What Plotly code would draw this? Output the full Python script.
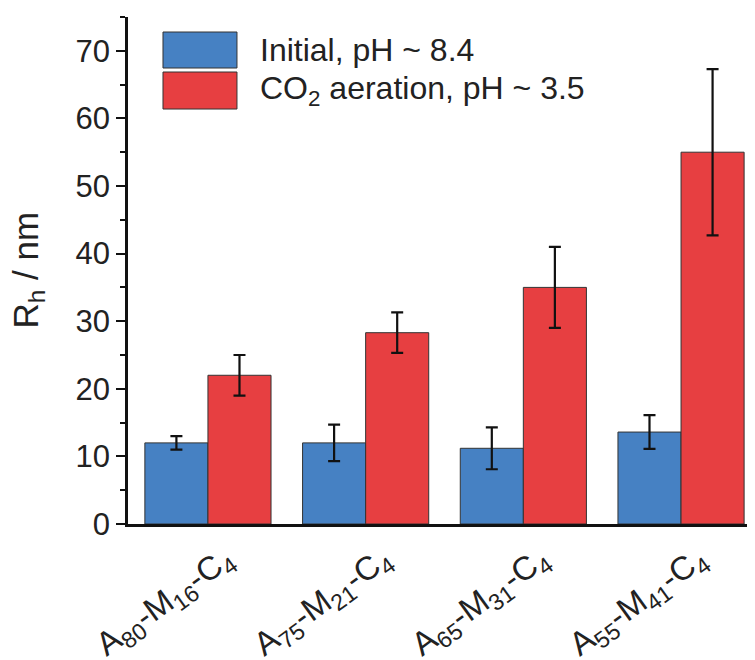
import plotly.graph_objects as go

categories = ["A<sub>80</sub>-M<sub>16</sub>-C<sub>4</sub>",
              "A<sub>75</sub>-M<sub>21</sub>-C<sub>4</sub>",
              "A<sub>65</sub>-M<sub>31</sub>-C<sub>4</sub>",
              "A<sub>55</sub>-M<sub>41</sub>-C<sub>4</sub>"]
initial_vals = [12.0, 12.0, 11.2, 13.6]
initial_err = [1.0, 2.7, 3.1, 2.5]
co2_vals = [22.0, 28.3, 35.0, 55.0]
co2_err = [3.0, 3.0, 6.0, 12.3]
legend_names = ["Initial, pH ~ 8.4", "CO<sub>2</sub> aeration, pH ~ 3.5"]
y_title = "R<sub>h</sub> / nm"

BLUE = "#4681C3"
RED = "#E73F41"
FONT = "Liberation Sans, Arial, sans-serif"

fig = go.Figure()
fig.add_trace(go.Bar(
    x=categories, y=initial_vals, name=legend_names[0],
    marker=dict(color=BLUE, line=dict(color="#333333", width=1)),
    error_y=dict(type="data", array=initial_err, color="#111111", thickness=2.2, width=6),
    showlegend=False))
fig.add_trace(go.Bar(
    x=categories, y=co2_vals, name=legend_names[1],
    marker=dict(color=RED, line=dict(color="#333333", width=1)),
    error_y=dict(type="data", array=co2_err, color="#111111", thickness=2.2, width=6),
    showlegend=False))

# legend drawn as boxes + text (paper coordinates)
boxes = [(0.9704, 0.8994, BLUE), (0.8915, 0.8185, RED)]
for (y1, y0, col), name in zip(boxes, legend_names):
    fig.add_shape(type="rect", xref="paper", yref="paper",
                  x0=0.0558, x1=0.1738, y0=y0, y1=y1,
                  fillcolor=col, line=dict(color="#333333", width=1))
    fig.add_annotation(xref="paper", yref="paper", x=0.2073, y=(y0 + y1) / 2,
                       text=name, showarrow=False, xanchor="left", yanchor="middle",
                       font=dict(size=32, color="#222222", family=FONT))

# y-axis title
fig.add_annotation(xref="paper", yref="paper", x=-0.161, y=0.50,
                   text=y_title, textangle=-90, showarrow=False,
                   xanchor="center", yanchor="middle",
                   font=dict(size=35, color="#222222", family=FONT))

# the page body adds an 8px offset, so the figure is 8px smaller than the window
fig.update_layout(
    width=747, height=652,
    margin=dict(l=120, r=0, t=9, b=136, autoexpand=False),
    plot_bgcolor="white", paper_bgcolor="white",
    barmode="group", bargap=0.2, bargroupgap=0,
    font=dict(family=FONT, color="#222222"),
    xaxis=dict(
        range=[-0.507, 3.469],
        showline=True, linecolor="#111111", linewidth=2.5,
        ticks="", tickangle=-36, ticklabelshift=18,
        tickfont=dict(size=33, color="#222222"),
        showgrid=False, zeroline=False, automargin=False),
    yaxis=dict(
        range=[0, 75],
        showline=True, linecolor="#111111", linewidth=2.5,
        ticks="outside", ticklen=9, tickwidth=2, tickcolor="#111111",
        tick0=0, dtick=10,
        minor=dict(ticks="outside", ticklen=5, tickwidth=2, tickcolor="#111111", dtick=5),
        tickfont=dict(size=31, color="#222222"),
        showgrid=False, zeroline=False, automargin=False),
)

fig.write_html("out.html")
